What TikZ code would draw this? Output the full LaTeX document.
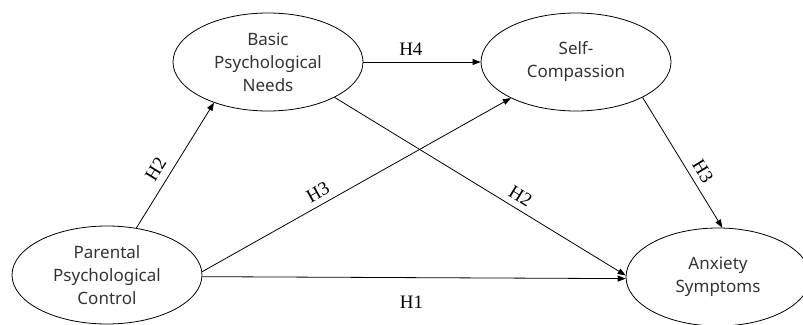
\documentclass[tikz,border=0pt]{standalone}
\usepackage{fontspec}
\setmainfont{Noto Sans}
\newfontfamily\labfont{Liberation Serif}
\usetikzlibrary{shapes.geometric,arrows.meta}
\tikzset{
  var/.style={draw, ellipse, line width=0.8pt, inner sep=0pt,
    minimum width=190pt, minimum height=98pt, align=center,
    font=\fontsize{17}{23}\selectfont, text=black!80},
  link/.style={draw, line width=0.8pt, -{Triangle[length=8pt,width=6pt]}},
  hyp/.style={font=\labfont\fontsize{19}{22}\selectfont, inner sep=2pt}
}
\begin{document}
\begin{tikzpicture}[x=1pt,y=-1pt]
\useasboundingbox (0,0) rectangle (803,324);
\node[var] (bpn) at (268,62) {Basic\\Psychological\\Needs};
\node[var] (sc) at (576,62) {Self-\\Compassion};
\node[var] (ppc) at (107,275) {Parental\\Psychological\\Control};
\node[var, minimum width=184pt] (as) at (718,277) {Anxiety\\Symptoms};
\draw[link] (ppc.58) -- node[hyp, sloped, pos=0.41, above=6pt] {H2} (bpn.217);
\draw[link] (bpn.east) -- node[hyp, pos=0.405, above=4pt] {H4} (sc.west);
\draw[link] (ppc.2) -- node[hyp, sloped, pos=0.395, above=4pt] {H3} (sc.209);
\draw[link] (bpn.332) -- node[hyp, sloped, pos=0.616, above=4pt] {H2} (as.179);
\draw[link] (ppc.-1) -- node[hyp, pos=0.494, below=16pt] {H1} (as.181);
\draw[link] (sc.332) -- node[hyp, sloped, pos=0.62, above=4pt] {H3} (as.85);
\end{tikzpicture}
\end{document}
